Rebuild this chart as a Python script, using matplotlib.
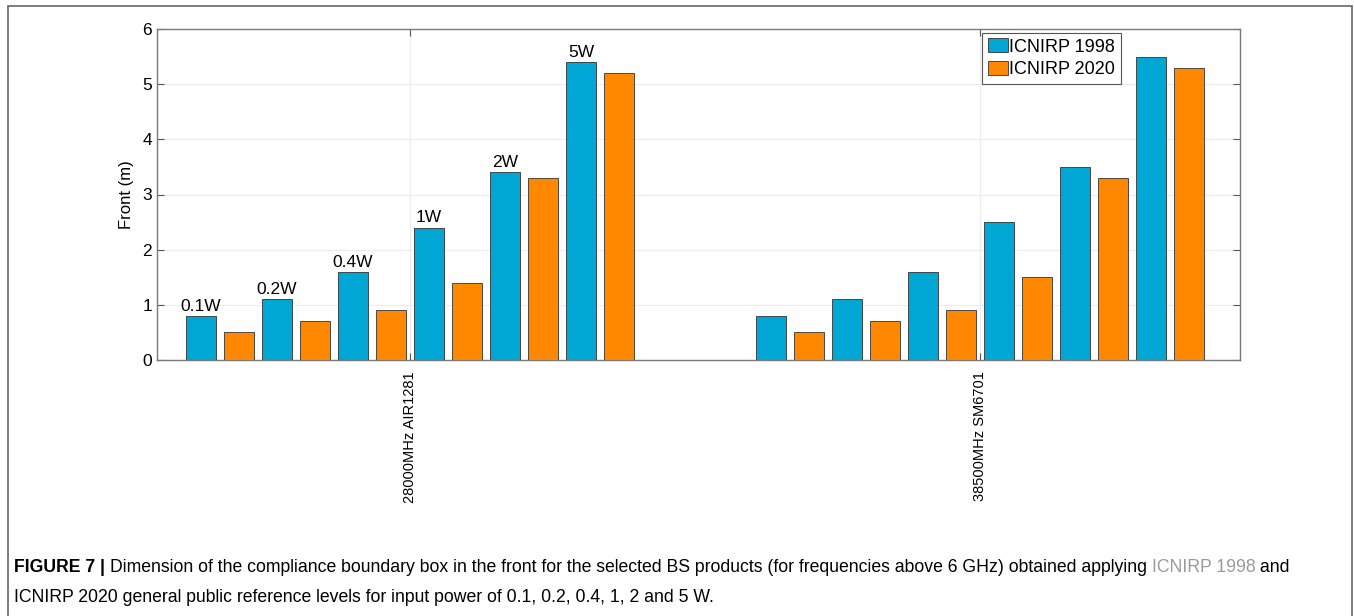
import matplotlib
matplotlib.use("Agg")
import matplotlib.pyplot as plt
from matplotlib.patches import Rectangle
import numpy as np

plt.rcParams['font.family'] = ['Liberation Sans', 'DejaVu Sans']

# data
products = ['28000MHz AIR1281', '38500MHz SM6701']
powers = ['0.1W', '0.2W', '0.4W', '1W', '2W', '5W']
icnirp1998 = [[0.8, 1.1, 1.6, 2.4, 3.4, 5.4],
              [0.8, 1.1, 1.6, 2.5, 3.5, 5.5]]
icnirp2020 = [[0.5, 0.7, 0.9, 1.4, 3.3, 5.2],
              [0.5, 0.7, 0.9, 1.5, 3.3, 5.3]]
series_names = ['ICNIRP 1998', 'ICNIRP 2020']
yticks = [0, 1, 2, 3, 4, 5, 6]

blue = '#00a6d4'
orange = '#ff8800'

fig = plt.figure(figsize=(13.54, 6.16), dpi=100)
ax = fig.add_axes([157/1354, 1-360/616, (1240-157)/1354, (360-29)/616])

nbars = 2*len(powers)
group_w = 0.8
step = group_w/nbars
bw = step*0.8
centers = np.arange(1, len(products)+1)

for g, c in enumerate(centers):
    for j in range(len(powers)):
        x1 = c - group_w/2 + (2*j+0.5)*step
        x2 = c - group_w/2 + (2*j+1.5)*step
        ax.bar(x1, icnirp1998[g][j], bw, color=blue, edgecolor='#333333', linewidth=0.6,
               label=series_names[0] if (g == 0 and j == 0) else None, zorder=3)
        ax.bar(x2, icnirp2020[g][j], bw, color=orange, edgecolor='#333333', linewidth=0.6,
               label=series_names[1] if (g == 0 and j == 0) else None, zorder=3)
        if g == 0:
            ax.text(x1, icnirp1998[g][j]+0.04, powers[j], ha='center', va='bottom', fontsize=12.5)

ax.set_xlim(0.556, 2.456)
ax.set_ylim(0, 6)
ax.set_yticks(yticks)
ax.set_xticks(centers)
ax.set_xticklabels(products, rotation=90, fontsize=10.5)
ax.tick_params(axis='y', labelsize=12.5, direction='in', right=True, length=5, color='#555555')
ax.tick_params(axis='x', direction='in', top=True, length=5, color='#555555', pad=8)
ax.set_ylabel('Front (m)', fontsize=12, labelpad=6)
ax.grid(True, color='#ececec', linewidth=0.8, zorder=0)
ax.set_axisbelow(True)
for s in ax.spines.values():
    s.set_color('#7a7a7a')
    s.set_linewidth(1.0)

leg = ax.legend(loc='upper left', bbox_to_anchor=(0.762, 0.988), fontsize=13,
                handlelength=1.1, handleheight=0.8, handletextpad=0.1, borderpad=0.3,
                labelspacing=0.3, borderaxespad=0, fancybox=False, framealpha=1)
leg.get_frame().set_edgecolor('#555555')
leg.get_frame().set_linewidth(0.8)

# outer frame round figure + caption
fig.patches.append(Rectangle((8/1354, -0.05), (1352-8)/1354, 1.05-6/616, transform=fig.transFigure,
                             fill=False, edgecolor='#666666', linewidth=1.2))

# caption
cap_fs = 12.7
r = fig.canvas.get_renderer()
y1 = 1-568/616
y2 = 1-597/616
x0 = 14/1354
t = fig.text(x0, y1, 'FIGURE 7 | ', fontsize=cap_fs, fontweight='bold', va='center')
w = t.get_window_extent(r).width/1354
t2 = fig.text(x0+w, y1, 'Dimension of the compliance boundary box in the front for the selected BS products '
              '(for frequencies above 6 GHz) obtained applying ', fontsize=cap_fs, va='center')
w2 = t2.get_window_extent(r).width/1354
t3 = fig.text(x0+w+w2, y1, 'ICNIRP 1998', fontsize=cap_fs, va='center', color='#9a9a9a')
w3 = t3.get_window_extent(r).width/1354
fig.text(x0+w+w2+w3, y1, ' and', fontsize=cap_fs, va='center')
fig.text(x0, y2, 'ICNIRP 2020 general public reference levels for input power of 0.1, 0.2, 0.4, 1, 2 and 5 W.',
         fontsize=cap_fs, va='center')

fig.savefig('out.png', dpi=100)
